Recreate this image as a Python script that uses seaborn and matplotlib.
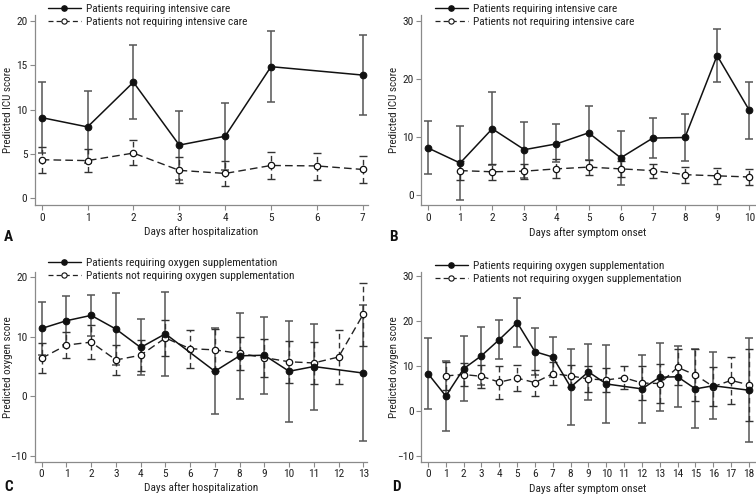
import numpy as np
import pandas as pd
import matplotlib
matplotlib.use("Agg")
import matplotlib.pyplot as plt
from matplotlib.lines import Line2D
import seaborn as sns

# ---------------- data ----------------
A_req_day = [0, 1, 2, 3, 4, 5, 7]
A_req_mean = [9.1, 8.05, 13.1, 6.0, 7.0, 14.85, 13.9]
A_req_lo = [5.1, 4.0, 8.9, 2.1, 3.2, 10.85, 9.45]
A_req_hi = [13.1, 12.1, 17.3, 9.9, 10.8, 18.85, 18.4]
A_non_day = [0, 1, 2, 3, 4, 5, 6, 7]
A_non_mean = [4.35, 4.25, 5.1, 3.15, 2.8, 3.7, 3.65, 3.25]
A_non_lo = [2.9, 2.95, 3.7, 1.7, 1.4, 2.2, 2.1, 1.7]
A_non_hi = [5.8, 5.6, 6.55, 4.6, 4.2, 5.2, 5.15, 4.8]

B_req_day = [0, 1, 2, 3, 4, 5, 6, 7, 8, 9, 10]
B_req_mean = [8.1, 5.5, 11.4, 7.8, 8.8, 10.7, 6.4, 9.8, 9.9, 24.0, 14.6]
B_req_lo = [3.6, -0.8, 5.2, 3.0, 5.6, 6.0, 1.8, 6.3, 5.8, 19.4, 9.7]
B_req_hi = [12.8, 11.8, 17.7, 12.6, 12.2, 15.4, 11.0, 13.3, 14.0, 28.6, 19.5]
B_non_day = [1, 2, 3, 4, 5, 6, 7, 8, 9, 10]
B_non_mean = [4.2, 4.0, 4.1, 4.5, 4.8, 4.5, 4.2, 3.5, 3.3, 3.1]
B_non_lo = [2.5, 2.6, 2.8, 2.9, 3.4, 3.1, 2.9, 2.1, 1.9, 1.7]
B_non_hi = [5.9, 5.3, 5.4, 6.2, 6.1, 5.9, 5.4, 4.8, 4.6, 4.4]

C_req_day = [0, 1, 2, 3, 4, 5, 7, 8, 9, 10, 11, 13]
C_req_mean = [11.4, 12.7, 13.6, 11.3, 8.2, 10.5, 4.2, 6.8, 6.9, 4.2, 5.0, 3.9]
C_req_lo = [7.0, 8.6, 10.2, 5.2, 3.5, 3.4, -3.0, -0.4, 0.4, -4.3, -2.3, -7.6]
C_req_hi = [15.8, 16.8, 17.0, 17.4, 13.0, 17.6, 11.4, 14.0, 13.4, 12.6, 12.2, 15.4]
C_non_day = [0, 1, 2, 3, 4, 5, 6, 7, 8, 9, 10, 11, 12, 13]
C_non_mean = [6.4, 8.6, 9.1, 6.1, 6.9, 9.8, 8.0, 7.8, 7.2, 6.5, 5.8, 5.6, 6.6, 13.8]
C_non_lo = [3.9, 6.4, 6.2, 3.5, 4.3, 6.8, 4.8, 4.3, 4.4, 3.3, 2.3, 2.1, 2.0, 8.5]
C_non_hi = [8.9, 10.8, 12.0, 8.7, 9.5, 12.8, 11.2, 11.3, 10.0, 9.7, 9.3, 9.2, 11.2, 19.1]

D_req_day = [0, 1, 2, 3, 4, 5, 6, 7, 8, 9, 10, 12, 13, 14, 15, 16, 18]
D_req_mean = [8.3, 3.3, 9.4, 12.3, 15.9, 19.7, 13.2, 12.0, 5.3, 8.7, 6.0, 4.9, 7.5, 7.6, 4.9, 5.6, 4.6]
D_req_lo = [0.5, -4.5, 2.1, 5.8, 11.6, 14.2, 8.0, 7.6, -3.2, 2.5, -2.8, -2.6, 0.0, 0.8, -3.9, -1.8, -7.0]
D_req_hi = [16.3, 11.1, 16.7, 18.8, 20.3, 25.2, 18.4, 16.4, 13.8, 14.9, 14.7, 12.5, 15.1, 14.5, 13.8, 13.2, 16.3]
D_non_day = [1, 2, 3, 4, 5, 6, 7, 8, 9, 10, 11, 12, 13, 14, 15, 16, 17, 18]
D_non_mean = [7.8, 8.1, 7.7, 6.4, 7.3, 6.3, 8.3, 7.8, 7.1, 6.9, 7.4, 6.2, 6.1, 9.7, 8.0, 5.4, 6.8, 5.8]
D_non_lo = [4.6, 5.6, 5.2, 2.7, 4.4, 3.4, 5.7, 5.3, 4.2, 4.1, 4.9, 2.5, 1.8, 5.8, 2.3, 1.0, 1.5, -2.3]
D_non_hi = [11.0, 10.6, 10.3, 10.1, 10.2, 9.2, 11.0, 10.3, 10.0, 9.6, 10.0, 9.9, 10.4, 13.7, 13.7, 9.8, 12.1, 13.9]

icu_labels = ["Patients requiring intensive care", "Patients not requiring intensive care"]
oxy_labels = ["Patients requiring oxygen supplementation", "Patients not requiring oxygen supplementation"]
panel_letters = ["A", "B", "C", "D"]
x_titles = ["Days after hospitalization", "Days after symptom onset",
            "Days after hospitalization", "Days after symptom onset"]
y_titles = ["Predicted ICU score", "Predicted ICU score",
            "Predicted oxygen score", "Predicted oxygen score"]
y_ticks = [[0, 5, 10, 15, 20], [0, 10, 20, 30], [-10, 0, 10, 20], [-10, 0, 10, 20, 30]]

# ---------------- style ----------------
sns.set_theme(style="ticks")
FONT = ["Roboto Condensed", "DejaVu Sans"]
plt.rcParams["font.family"] = FONT
TXT = "#222222"
SP = "#8a8a8a"
FS = 7.9

W, H = 756, 498
fig = plt.figure(figsize=(W / 100, H / 100), dpi=100)

def fbox(l, r, t, b):
    return [l / W, 1 - b / H, (r - l) / W, (b - t) / H]

boxes = [fbox(35, 368, 15, 205), fbox(421.3, 755, 15, 205),
         fbox(35, 367, 272.3, 461.7), fbox(421.3, 755, 272.3, 461.7)]
xlims = [(-0.146, 7.115), (-0.208, 10.18), (-0.27, 13.15), (-0.376, 18.34)]
ylims = [(-0.76, 20.68), (-1.72, 30.98), (-11.0, 20.84), (-11.34, 30.9)]

panels = [
    (A_req_day, A_req_mean, A_req_lo, A_req_hi, A_non_day, A_non_mean, A_non_lo, A_non_hi),
    (B_req_day, B_req_mean, B_req_lo, B_req_hi, B_non_day, B_non_mean, B_non_lo, B_non_hi),
    (C_req_day, C_req_mean, C_req_lo, C_req_hi, C_non_day, C_non_mean, C_non_lo, C_non_hi),
    (D_req_day, D_req_mean, D_req_lo, D_req_hi, D_non_day, D_non_mean, D_non_lo, D_non_hi),
]
legend_pos = [(43, -1), (430, -1), (43, 253), (430, 256)]
letter_pos = [(4, 237), (389, 237), (4, 487), (392, 487)]
xlabel_y = [232, 233, 488, 489]
ylabel_x = [8, 394, 8, 394]

for i, (rd, rm, rl, rh, nd, nm, nl, nh) in enumerate(panels):
    ax = fig.add_axes(boxes[i])
    rd = np.array(rd); rm = np.array(rm); rl = np.array(rl); rh = np.array(rh)
    nd = np.array(nd); nm = np.array(nm); nl = np.array(nl); nh = np.array(nh)

    # error bars
    ax.errorbar(rd, rm, yerr=[rm - rl, rh - rm], fmt="none", ecolor="#555555",
                elinewidth=1.1, capsize=2.6, capthick=1.1, zorder=2)
    eb2 = ax.errorbar(nd, nm, yerr=[nm - nl, nh - nm], fmt="none", ecolor="#333333",
                      elinewidth=1.0, capsize=2.6, capthick=1.0, zorder=2)
    for lc in eb2[2]:
        lc.set_linestyle((0, (4, 2.5)))

    df_r = pd.DataFrame({"day": rd, "score": rm})
    df_n = pd.DataFrame({"day": nd, "score": nm})
    sns.lineplot(data=df_n, x="day", y="score", ax=ax, color="#222222", linewidth=1.0,
                 linestyle=(0, (5.5, 3)), marker="o", markersize=4.6, markerfacecolor="white",
                 markeredgecolor="#111111", markeredgewidth=0.9, zorder=3)
    sns.lineplot(data=df_r, x="day", y="score", ax=ax, color="#111111", linewidth=1.1,
                 marker="o", markersize=4.8, markerfacecolor="#111111",
                 markeredgecolor="#111111", zorder=4)

    ax.set_xlim(*xlims[i])
    ax.set_ylim(*ylims[i])
    maxday = int(max(rd.max(), nd.max()))
    ax.set_xticks(range(0, maxday + 1))
    ax.set_yticks(y_ticks[i])
    ax.set_xlabel("")
    ax.set_ylabel("")
    sns.despine(ax=ax)
    for s in ["left", "bottom"]:
        ax.spines[s].set_color(SP)
        ax.spines[s].set_linewidth(0.9)
    ax.tick_params(axis="both", direction="out", length=3.5, width=0.8, color=SP,
                   labelsize=8.2, labelcolor=TXT, pad=2)

    fig.text(ylabel_x[i] / W, boxes[i][1] + boxes[i][3] / 2, y_titles[i], rotation=90,
             ha="center", va="center", fontsize=FS, color=TXT, family=FONT)
    xc = (boxes[i][0] + boxes[i][2] / 2)
    fig.text(xc, 1 - xlabel_y[i] / H, x_titles[i], ha="center", va="center",
             fontsize=FS + 0.3, color=TXT, family=FONT)
    fig.text(letter_pos[i][0] / W, 1 - letter_pos[i][1] / H, panel_letters[i],
             ha="left", va="center", fontsize=11, fontweight="bold", color="#111111",
             family=FONT)

    labels = icu_labels if i < 2 else oxy_labels
    h1 = Line2D([], [], color="#111111", linewidth=1.0, marker="o", markersize=3.8,
                markerfacecolor="#111111", markeredgecolor="#111111")
    h2 = Line2D([], [], color="#222222", linewidth=0.9, linestyle=(0, (4, 2.5)), marker="o",
                markersize=3.8, markerfacecolor="white", markeredgecolor="#111111",
                markeredgewidth=0.8)
    lx, ly = legend_pos[i]
    fig.legend([h1, h2], labels, loc="upper left", bbox_to_anchor=(lx / W, 1 - ly / H),
               frameon=False, handlelength=2.9, handletextpad=0.5,
               labelspacing=0.3, borderaxespad=0, labelcolor=TXT,
               prop={"family": FONT, "size": FS + 0.3})

fig.savefig("out.png", dpi=100)
